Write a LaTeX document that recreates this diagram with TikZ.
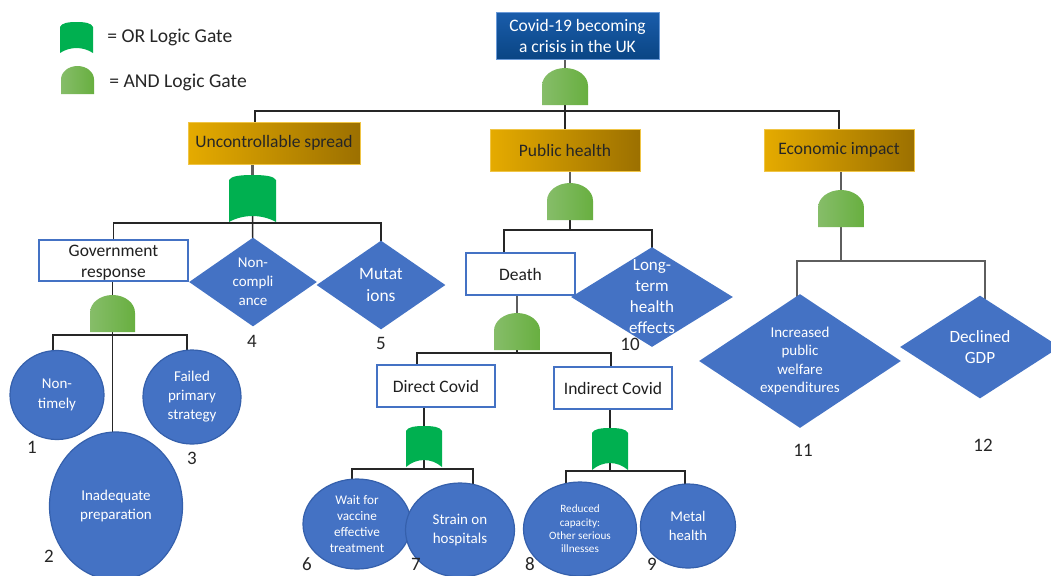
\documentclass[tikz,border=0pt]{standalone}
\usepackage{fontspec}
\setmainfont{Carlito}
\usetikzlibrary{shapes.geometric}
\pgfdeclarelayer{wires}
\pgfsetlayers{wires,main}

\definecolor{blueF}{HTML}{4472C4}
\definecolor{blueD}{HTML}{3560AC}
\definecolor{goldL}{HTML}{E5AB00}
\definecolor{goldR}{HTML}{9C7000}
\definecolor{goldB}{HTML}{F0C545}
\definecolor{topT}{HTML}{1A5DAB}
\definecolor{topBt}{HTML}{0A4584}
\definecolor{topB}{HTML}{6A9AD8}
\definecolor{andL}{HTML}{86BD69}
\definecolor{andR}{HTML}{68AF40}
\definecolor{orG}{HTML}{00B050}
\definecolor{wireC}{HTML}{262626}
\definecolor{stubC}{HTML}{5E5E5E}

\newcommand\fBox{\fontsize{8.75pt}{10.5pt}\selectfont}
\newcommand\fLeg{\fontsize{9.8pt}{11pt}\selectfont}
\newcommand\fNum{\fontsize{9.5pt}{11pt}\selectfont}

% AND gate: flat base, straight sides, dome on top
% #1 name, #2 left x, #3 right x, #4 top y, #5 base y
\newcommand\andgate[5]{%
  \pgfmathsetmacro\gateC{(#2+#3)/2}%
  \pgfmathsetmacro\gateM{#4+0.48*(#5-#4)}%
  \pgfmathsetmacro\gateK{0.552*(\gateM-#4)}%
  \pgfmathsetmacro\gateH{0.552*(#3-#2)/2}%
  \path[andfill] (#2,#5) -- (#2,\gateM)
    .. controls (#2,\gateM-\gateK) and (\gateC-\gateH,#4) .. (\gateC,#4)
    .. controls (\gateC+\gateH,#4) and (#3,\gateM-\gateK) .. (#3,\gateM)
    -- (#3,#5) -- cycle;
  \coordinate (#1t) at (\gateC,#4);
  \coordinate (#1c) at (\gateC,\gateM);
}
% OR gate: arched top, concave base
% #1 name, #2 left x, #3 right x, #4 top y, #5 base y, #6 depth of the base curve
\newcommand\orgate[6]{%
  \pgfmathsetmacro\gateC{(#2+#3)/2}%
  \pgfmathsetmacro\gateW{#3-#2}%
  \path[orfill] (#2,#5) -- (#2,#4+5)
    .. controls (#2+0.04*\gateW,#4+1) and (#2+0.25*\gateW,#4) .. (\gateC,#4)
    .. controls (#3-0.25*\gateW,#4) and (#3-0.04*\gateW,#4+1) .. (#3,#4+5)
    -- (#3,#5)
    .. controls (#3-0.3*\gateW,#5-1.33*#6) and (#2+0.3*\gateW,#5-1.33*#6) .. (#2,#5)
    -- cycle;
  \coordinate (#1t) at (\gateC,#4);
  \coordinate (#1c) at (\gateC,#5-#6-8);
}

\begin{document}
\begin{tikzpicture}[x=0.5pt,y=-0.5pt,
  wire/.style={draw=wireC, line width=0.7pt},
  stub/.style={draw=stubC, line width=1.1pt},
  goldbox/.style={rectangle, draw=goldB, line width=0.5pt, left color=goldL, right color=goldR,
    text=black!85, font=\fBox, align=center, inner sep=0pt},
  whitebox/.style={rectangle, draw=blueF, line width=1.1pt, fill=white,
    text=black!88, font=\fBox, align=center, inner sep=0pt},
  diam/.style={diamond, fill=blueF, inner sep=0pt},
  blob/.style={ellipse, fill=blueF, draw=blueD, line width=0.6pt, inner sep=0pt},
  intext/.style={text=white, align=center, inner sep=0pt},
  num/.style={text=black!85, font=\fNum, inner sep=0pt},
  andfill/.style={left color=andL, right color=andR},
  orfill/.style={fill=orG},
]
\useasboundingbox (0,0) rectangle (1051,575);

% ---------- legend ----------
\orgate{lo}{60}{93}{22}{53}{5}
\node[anchor=west, font=\fLeg, text=black!85, inner sep=0pt] (legOr) at (107,37) {= OR Logic Gate};
\andgate{la}{61}{94}{66}{94}
\node[anchor=west, font=\fLeg, text=black!85, inner sep=0pt] (legAnd) at (109,82) {= AND Logic Gate};

% ---------- top event and first level ----------
\node[rectangle, draw=topB, line width=0.5pt, top color=topT, bottom color=topBt, text=white,
  font=\fBox, align=center, inner sep=0pt, minimum width=81.5pt, minimum height=23.5pt]
  (top) at (577.5,35.5) {Covid-19 becoming\\a crisis in the UK};
\andgate{g0}{542}{588}{68}{105}

\node[goldbox, minimum width=86pt, minimum height=21pt] (us) at (274,143) {Uncontrollable spread};
\node[goldbox, minimum width=75pt, minimum height=21pt] (ph) at (565,150) {Public health};
\node[goldbox, minimum width=75pt, minimum height=21pt] (econ) at (839,150) {Economic impact};

% ---------- uncontrollable spread branch ----------
\orgate{g1}{229}{276}{175}{222}{6}
\node[whitebox, minimum width=74.5pt, minimum height=20.5pt] (gov) at (113.5,260.5) {};
\node[text=black!88, font=\fBox, align=center, inner sep=0pt] (govtxt) at (113.5,262.5) {Government\\response};
\node[diam, minimum width=64pt, minimum height=44.5pt] (n4) at (253,282) {};
\node[intext, font={\fontsize{7.5pt}{9.5pt}\selectfont}] (n4txt) at (n4) {Non-\\compli\\ance};
\node[diam, minimum width=64.5pt, minimum height=44.5pt] (n5) at (381,285) {};
\node[intext, font={\fontsize{8.7pt}{11pt}\selectfont}] (n5txt) at (n5) {Mutat\\ions};
\node[num] (l4) at (252,341) {4};
\node[num] (l5) at (381,343) {5};

\andgate{g2}{90}{135}{295}{332}
\node[blob, minimum width=47pt, minimum height=44.5pt] (c1) at (57,395) {};
\node[intext, font={\fontsize{7.5pt}{10pt}\selectfont}] (c1txt) at (c1) {Non-\\timely};
\node[blob, minimum width=49pt, minimum height=47pt] (c3) at (192,397) {};
\node[intext, font={\fontsize{7.5pt}{9.5pt}\selectfont}] (c3txt) at (c3) {Failed\\primary\\strategy};
\node[blob, minimum width=66.5pt, minimum height=74pt] (c2) at (116,506) {};
\node[intext, font={\fontsize{7.5pt}{9.25pt}\selectfont}] (c2txt) at (c2) {Inadequate\\preparation};
\node[num] (l1) at (32,447) {1};
\node[num] (l2) at (49,556) {2};
\node[num] (l3) at (192,458) {3};

% ---------- public health branch ----------
\andgate{g3}{547}{593}{183}{220}
\node[whitebox, minimum width=54.5pt, minimum height=21pt] (death) at (520.5,274) {Death};
\node[diam, minimum width=81pt, minimum height=50pt] (n10) at (652,297) {};
\node[intext, font={\fontsize{8.5pt}{10.5pt}\selectfont}] (n10txt) at (n10) {Long-\\term\\health\\effects};
\node[num] (l10) at (630,344) {10};

\andgate{g4}{494}{540}{313}{350}
\node[whitebox, minimum width=59pt, minimum height=21pt] (direct) at (436,386) {Direct Covid};
\node[whitebox, minimum width=59pt, minimum height=21pt] (indirect) at (613,388) {Indirect Covid};

\orgate{g5}{406}{442}{426}{467}{7}
\node[blob, minimum width=54pt, minimum height=45pt] (c6) at (357,524) {};
\node[intext, font={\fontsize{6.6pt}{8pt}\selectfont}] (c6txt) at (c6) {Wait for\\vaccine\\effective\\treatment};
\node[blob, minimum width=54.5pt, minimum height=47pt] (c7) at (460,530) {};
\node[intext, font={\fontsize{7.5pt}{9.25pt}\selectfont}] (c7txt) at (c7) {Strain on\\hospitals};
\node[num] (l6) at (307,564) {6};
\node[num] (l7) at (416,564) {7};

\orgate{g6}{592}{628}{428}{470}{7}
\node[blob, minimum width=56.5pt, minimum height=47pt] (c8) at (580,529) {};
\node[intext, font={\fontsize{5.6pt}{6.65pt}\selectfont}] (c8txt) at (c8) {Reduced\\capacity:\\Other serious\\illnesses};
\node[blob, minimum width=47.5pt, minimum height=42pt] (c9) at (688,526) {};
\node[intext, font={\fontsize{7.4pt}{9.25pt}\selectfont}] (c9txt) at (c9) {Metal\\health};
\node[num] (l8) at (530,564) {8};
\node[num] (l9) at (652,564) {9};

% ---------- economic impact branch ----------
\andgate{g7}{818}{864}{190}{227}
\node[diam, minimum width=101pt, minimum height=67pt] (n11) at (800,361) {};
\node[intext, font={\fontsize{7.5pt}{9.25pt}\selectfont}] (n11txt) at (n11) {Increased\\public\\welfare\\expenditures};
\node[diam, minimum width=80pt, minimum height=51.5pt] (n12) at (980,347) {};
\node[intext, font={\fontsize{8.6pt}{10.5pt}\selectfont}] (n12txt) at (n12) {Declined\\GDP};
\node[num] (l11) at (803,450) {11};
\node[num] (l12) at (983,445) {12};

% ---------- junction points of the connector bars ----------
\coordinate (usT) at (255,143);
\coordinate (j0) at (565,111);
\coordinate (j1) at (252.5,223);
\coordinate (j2l) at (53,335);
\coordinate (j2r) at (187,335);
\coordinate (j3l) at (504,230);
\coordinate (j3r) at (652,230);
\coordinate (j4l) at (417,353);
\coordinate (j4r) at (611,353);
\coordinate (j5l) at (352,469);
\coordinate (j5r) at (473,469);
\coordinate (j6l) at (566,471);
\coordinate (j6r) at (685,471);
\coordinate (j7l) at (797,261);
\coordinate (j7r) at (985,261);

% ---------- connectors, kept behind shapes and gates ----------
\begin{pgfonlayer}{wires}
  \fill[white] (0,0) rectangle (1051,575);
  % top event
  \draw[stub] (g0c |- top.center) -- (g0c);
  \draw[wire] (g0c) -- (ph.center);
  \draw[wire] (usT) |- (j0) -| (econ.center);
  % uncontrollable spread
  \draw[stub] (g1c |- us.center) -- (g1c);
  \draw[wire] (g1c) -- (n4.center);
  \draw[wire] (gov.center) |- (j1) -| (n5.center);
  % government response
  \draw[wire] (g2c |- gov.center) -- (g2c);
  \draw[wire] (j2l |- c1.center) -- (j2l) -- (j2r) -- (j2r |- c3.center);
  \draw[wire] (g2c) -- (g2c |- c2.center);
  % public health
  \draw[stub] (g3c |- ph.center) -- (g3c);
  \draw[wire] (g3c) -- (g3c |- j3l);
  \draw[wire] (j3l |- death.center) -- (j3l) -- (j3r) -- (n10.center);
  % death
  \draw[stub] (g4c |- death.center) -- (g4c);
  \draw[wire] (g4c) -- (g4c |- j4l);
  \draw[wire] (j4l |- direct.center) -- (j4l) -- (j4r) -- (j4r |- indirect.center);
  % direct covid
  \draw[wire] (g5c |- direct.center) -- (g5c);
  \draw[wire] (g5c) -- (g5c |- j5l);
  \draw[wire] (j5l |- c6.center) -- (j5l) -- (j5r) -- (j5r |- c7.center);
  % indirect covid
  \draw[wire] (g6c |- indirect.center) -- (g6c);
  \draw[wire] (g6c) -- (g6c |- j6l);
  \draw[wire] (j6l |- c8.center) -- (j6l) -- (j6r) -- (j6r |- c9.center);
  % economic impact
  \draw[stub] (g7c |- econ.center) -- (g7c);
  \draw[stub] (g7c) -- (g7c |- j7l);
  \draw[stub] (j7l |- n11.center) -- (j7l) -- (j7r) -- (j7r |- n12.center);
\end{pgfonlayer}
\end{tikzpicture}
\end{document}
